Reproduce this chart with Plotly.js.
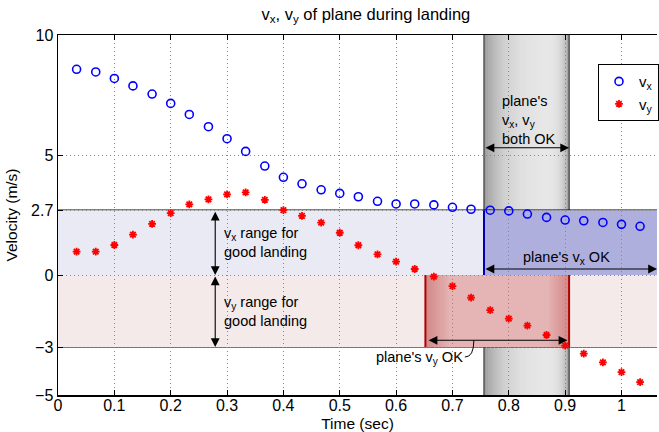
<!DOCTYPE html>
<html><head><meta charset="utf-8">
<script src="https://cdn.plot.ly/plotly-3.0.1.min.js"></script>
<style>html,body{margin:0;padding:0;background:#fff}#chart{width:659px;height:432px}</style>
</head><body><div id="chart"></div>
<script>
// ---- data ----
const timeSec = [0.033,0.067,0.1,0.133,0.167,0.2,0.233,0.267,0.3,0.333,0.367,0.4,0.433,0.467,0.5,0.533,0.567,0.6,0.633,0.667,0.7,0.733,0.767,0.8,0.833,0.867,0.9,0.933,0.967,1.0,1.033];
const vx = [8.57,8.46,8.19,7.88,7.54,7.15,6.69,6.18,5.68,5.15,4.54,4.07,3.80,3.55,3.40,3.26,3.07,2.96,2.96,2.92,2.82,2.74,2.70,2.67,2.54,2.40,2.29,2.26,2.19,2.11,2.03];
const vy = [0.97,0.97,1.25,1.68,2.13,2.58,2.94,3.15,3.36,3.44,3.13,2.70,2.46,2.18,1.76,1.24,0.86,0.56,0.25,-0.07,-0.46,-0.94,-1.46,-1.82,-2.11,-2.50,-2.94,-3.28,-3.64,-4.05,-4.46];
const yTickVals = [-5,-3,0,2.7,5,10];
const yTickText = ['\u22125','\u22123','0','2.7','5','10'];
const xTickVals = [0,0.1,0.2,0.3,0.4,0.5,0.6,0.7,0.8,0.9,1];
const xTickText = ['0','0.1','0.2','0.3','0.4','0.5','0.6','0.7','0.8','0.9','1'];
// landing limits
const vxMax = 2.7, vxMin = 0, vyMax = 0, vyMin = -3;
const vxOkStart = 0.756;   // vx enters range
const vyOkStart = 0.652, vyOkEnd = 0.907;  // vy within range
const xMax = 1.063;

const FONT = '"Liberation Sans", Arial, Helvetica, sans-serif';
const shapes = [];
// light bands
shapes.push({type:'rect',xref:'x',yref:'y',x0:0,x1:xMax+0.1,y0:vxMin,y1:vxMax,fillcolor:'#eaeaf5',line:{width:0},layer:'below'});
shapes.push({type:'rect',xref:'x',yref:'y',x0:0,x1:xMax+0.1,y0:vyMin,y1:vyMax,fillcolor:'#f5eaea',line:{width:0},layer:'below'});
// gray "both OK" band with gradient (opaque strips)
const bothStart = vxOkStart, bothEnd = vyOkEnd;
const N = 40;
for (let i=0;i<N;i++){
  const u = (i+0.5)/N;
  const d = Math.max(Math.exp(-u/0.22), Math.exp(-(1-u)/0.07));
  const g = Math.round(234 - 82*d);
  shapes.push({type:'rect',xref:'x',yref:'paper',x0:bothStart+(bothEnd-bothStart)*i/N,x1:bothStart+(bothEnd-bothStart)*(i+1)/N+0.001,y0:0,y1:1,fillcolor:`rgb(${g},${g},${g})`,line:{width:0},layer:'below'});
}
// vx OK region
shapes.push({type:'rect',xref:'x',yref:'y',x0:vxOkStart,x1:xMax+0.1,y0:vxMin,y1:vxMax,fillcolor:'rgba(40,40,170,0.3)',line:{width:0},layer:'below'});
// vy OK region: base + nested edge darkening (no seams)
shapes.push({type:'rect',xref:'x',yref:'y',x0:vyOkStart,x1:vyOkEnd,y0:vyMin,y1:vyMax,fillcolor:'rgba(185,40,40,0.28)',line:{width:0},layer:'below'});
const span = vyOkEnd - vyOkStart;
const K = 8;
for (let k=1;k<=K;k++){
  const wl = span*0.16*k/K, wr = span*0.14*k/K;
  shapes.push({type:'rect',xref:'x',yref:'y',x0:vyOkStart,x1:vyOkStart+wl,y0:vyMin,y1:vyMax,fillcolor:'rgba(170,30,30,0.035)',line:{width:0},layer:'below'});
  shapes.push({type:'rect',xref:'x',yref:'y',x0:vyOkEnd-wr,x1:vyOkEnd,y0:vyMin,y1:vyMax,fillcolor:'rgba(170,30,30,0.035)',line:{width:0},layer:'below'});
}
// edges
shapes.push({type:'line',xref:'x',yref:'paper',x0:bothStart,x1:bothStart,y0:0,y1:1,line:{color:'#555',width:1.5},layer:'below'});
shapes.push({type:'line',xref:'x',yref:'paper',x0:bothEnd,x1:bothEnd,y0:0,y1:1,line:{color:'#555',width:1.5},layer:'below'});
shapes.push({type:'line',xref:'x',yref:'y',x0:vyOkStart,x1:vyOkStart,y0:vyMin,y1:vyMax,line:{color:'#b00000',width:2},layer:'below'});
shapes.push({type:'line',xref:'x',yref:'y',x0:vyOkEnd,x1:vyOkEnd,y0:vyMin,y1:vyMax,line:{color:'#b00000',width:2},layer:'below'});
shapes.push({type:'line',xref:'x',yref:'y',x0:vxOkStart,x1:vxOkStart,y0:vxMin,y1:vxMax,line:{color:'#0000b0',width:2},layer:'below'});
// horizontal limit lines
shapes.push({type:'line',xref:'paper',yref:'y',x0:0,x1:1,y0:vxMax,y1:vxMax,line:{color:'#000',width:1.2},layer:'below'});
shapes.push({type:'line',xref:'paper',yref:'y',x0:0,x1:1,y0:0,y1:0,line:{color:'#000',width:1.5},layer:'below'});
shapes.push({type:'line',xref:'paper',yref:'y',x0:0,x1:1,y0:vyMin,y1:vyMin,line:{color:'#444',width:1.5},layer:'below'});
// leader curve for vy OK label
shapes.push({type:'path',xref:'x',yref:'y',path:'M 0.722,-3.42 Q 0.738,-3.42 0.738,-2.72',line:{color:'#000',width:1},layer:'above'});

const arrowBase = {text:'',showarrow:true,arrowhead:2,startarrowhead:2,arrowside:'end+start',arrowsize:1.6,startarrowsize:1.6,arrowwidth:1.1,arrowcolor:'#000',axref:'x',ayref:'y',xref:'x',yref:'y'};
const annFont = {family:FONT,size:14.5,color:'#000'};
const annotations = [
  Object.assign({},arrowBase,{x:bothEnd,y:5.3,ax:bothStart,ay:5.3}),
  Object.assign({},arrowBase,{x:xMax,y:0.25,ax:vxOkStart,ay:0.25}),
  Object.assign({},arrowBase,{x:vyOkEnd-0.003,y:-2.72,ax:vyOkStart+0.003,ay:-2.72}),
  Object.assign({},arrowBase,{x:0.279,y:0,ax:0.279,ay:vxMax}),
  Object.assign({},arrowBase,{x:0.279,y:vyMin,ax:0.279,ay:0}),
  {text:"plane's<br>v<sub>x</sub>, v<sub>y</sub><br>both OK",x:0.784,y:6.45,xref:'x',yref:'y',xanchor:'left',yanchor:'middle',align:'left',showarrow:false,font:annFont},
  {text:"v<sub>x</sub> range for<br>good landing",x:0.291,y:1.35,xref:'x',yref:'y',xanchor:'left',yanchor:'middle',align:'left',showarrow:false,font:annFont},
  {text:"v<sub>y</sub> range for<br>good landing",x:0.291,y:-1.5,xref:'x',yref:'y',xanchor:'left',yanchor:'middle',align:'left',showarrow:false,font:annFont},
  {text:"plane's v<sub>x</sub> OK",x:0.902,y:0.72,xref:'x',yref:'y',xanchor:'center',yanchor:'middle',showarrow:false,font:annFont},
  {text:"plane's v<sub>y</sub> OK",x:0.641,y:-3.46,xref:'x',yref:'y',xanchor:'center',yanchor:'middle',showarrow:false,font:annFont}
];

const traces = [
  {x:timeSec,y:vx,type:'scatter',mode:'markers',name:'v<sub>x</sub>',marker:{symbol:'circle-open',size:8,color:'#0000ff',line:{width:1.6,color:'#0000ff'}}},
  {x:timeSec,y:vy,type:'scatter',mode:'markers',name:'v<sub>y</sub>',marker:{symbol:'asterisk-open',size:6.5,color:'#ff0000',line:{width:1.8,color:'#ff0000'}}}
];

const layout = {
  width:659,height:432,
  margin:{l:58,r:0,t:35,b:37,pad:0},
  paper_bgcolor:'#fff',plot_bgcolor:'#fff',
  font:{family:FONT,size:16,color:'#000'},
  title:{text:'v<sub>x</sub>, v<sub>y</sub> of plane during landing',x:0.514,xref:'paper',xanchor:'center',y:1-14/432,yref:'container',yanchor:'middle',font:{family:FONT,size:16.5,color:'#000'}},
  xaxis:{range:[0,xMax],tickvals:xTickVals,ticktext:xTickText,ticks:'inside',ticklen:5,tickcolor:'#000',showline:true,linecolor:'#000',linewidth:1.5,mirror:'ticks',showgrid:true,gridcolor:'#888',griddash:'1px,3px',gridwidth:1,zeroline:false,tickfont:{size:16},ticklabelstandoff:-5,
    title:{text:'Time (sec)',font:{size:15.5}},automargin:false},
  yaxis:{range:[-5,10],tickvals:yTickVals,ticktext:yTickText,ticks:'inside',ticklen:5,tickcolor:'#000',showline:true,linecolor:'#000',linewidth:1.5,mirror:false,showgrid:true,gridcolor:'#888',griddash:'1px,3px',gridwidth:1,zeroline:false,tickfont:{size:16},
    title:{text:'Velocity (m/s)',font:{size:15.5}},automargin:false},
  legend:{x:0.902,y:0.919,xanchor:'left',yanchor:'top',bgcolor:'#fff',bordercolor:'#000',borderwidth:1,font:{size:15},itemwidth:30,tracegroupgap:0},
  showlegend:true,
  shapes:shapes,
  annotations:annotations
};
Plotly.newPlot('chart',traces,layout,{displayModeBar:false,staticPlot:true});
</script></body></html>
